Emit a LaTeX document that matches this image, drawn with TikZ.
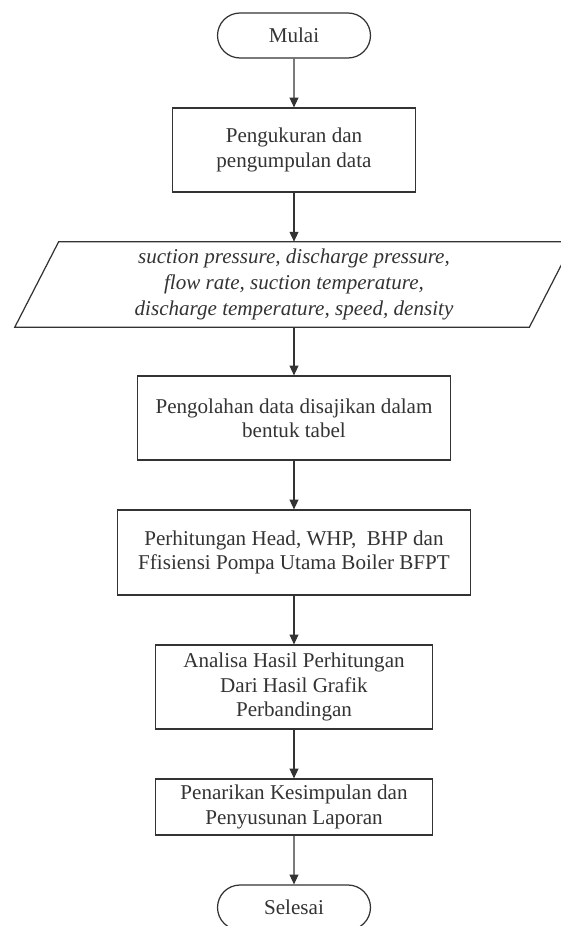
\documentclass[tikz,border=0pt]{standalone}
\usepackage{fontspec}
\setmainfont{Liberation Serif}
\usetikzlibrary{shapes.misc,arrows.meta,calc}
\tikzset{>={Triangle[width=5pt,length=5.5pt]}}

\begin{document}
\begin{tikzpicture}[x=0.02cm,y=-0.02cm,
    every node/.style={font=\fontsize{12}{13.8}\selectfont,text=black!80,align=center,inner sep=0pt},
    line/.style={draw=black!80,line width=0.7pt},
    terminal/.style={line,rounded rectangle,minimum width=3.06cm,minimum height=0.9cm},
    process/.style={line,rectangle,minimum height=1.68cm}]
  \useasboundingbox (0,0) rectangle (561,926);
  \clip (0,0) rectangle (561,926);

  \node [terminal] (mulai) at (294,35.5) {Mulai};
  \node [process,minimum width=4.86cm] (ukur) at (294,150) {Pengukuran dan\\pengumpulan data};
  \node [minimum width=9.4cm,minimum height=1.7cm,font=\itshape\fontsize{12}{15}\selectfont] (data) at (294,284.5)
    {suction pressure, discharge pressure,\\flow rate, suction temperature,\\discharge temperature, speed, density};
  \draw [line] (data.north west) -- ($(data.north east)+(44,0)$) -- (data.south east)
    -- ($(data.south west)+(-44,0)$) -- cycle;
  \node [process,minimum width=6.26cm] (olah) at (294,418) {Pengolahan data disajikan dalam\\bentuk tabel};
  \node [process,minimum width=7.06cm,minimum height=1.7cm] (hitung) at (294,552.5)
    {Perhitungan Head, WHP,\ \ BHP dan\\Ffisiensi Pompa Utama Boiler BFPT};
  \node [process,minimum width=5.54cm] (analisa) at (294,687)
    {Analisa Hasil Perhitungan\\Dari Hasil Grafik\\Perbandingan};
  \node [process,minimum width=5.54cm,minimum height=1.12cm] (simpul) at (294,807)
    {Penarikan Kesimpulan dan\\Penyusunan Laporan};
  \node [terminal] (selesai) at (294,907.5) {Selesai};

  \draw [line,->] (mulai) -- (ukur);
  \draw [line,->] (ukur) -- (data);
  \draw [line,->] (data) -- (olah);
  \draw [line,->] (olah) -- (hitung);
  \draw [line,->] (hitung) -- (analisa);
  \draw [line,->] (analisa) -- (simpul);
  \draw [line,->] (simpul) -- (selesai);
\end{tikzpicture}
\end{document}
